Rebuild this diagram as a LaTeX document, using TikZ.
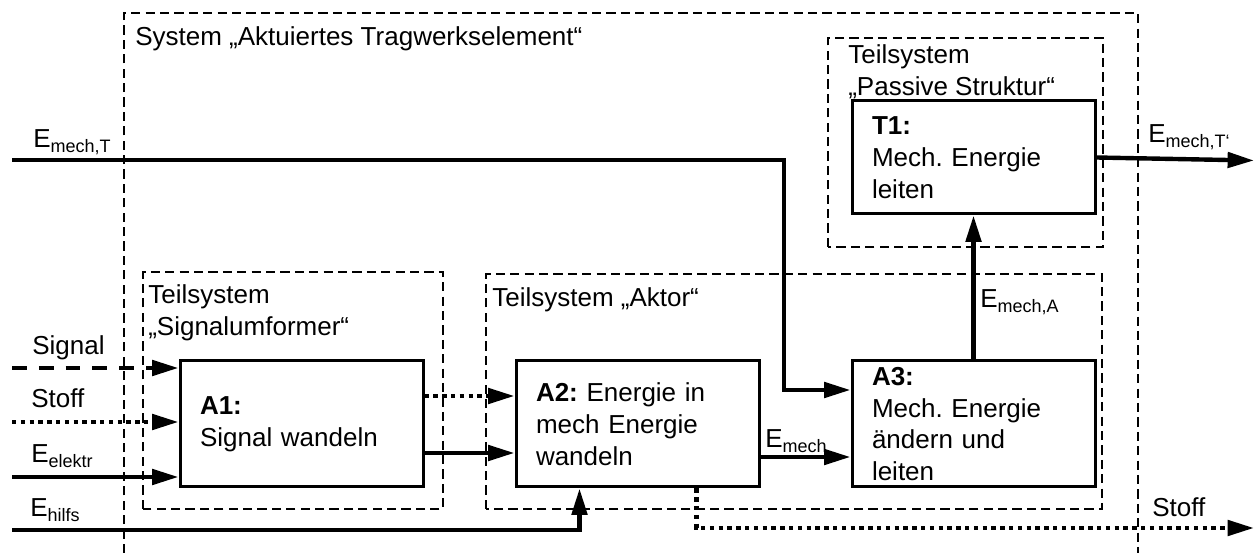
\documentclass[tikz,border=0pt]{standalone}
\usepackage{fontspec}
\setmainfont{Liberation Sans}
\usepackage{tikz}
\usetikzlibrary{positioning,arrows.meta,calc}
\frenchspacing
\newcommand{\esub}[1]{\raisebox{-0.125cm}{\fontsize{12.8}{12.8}\selectfont #1}}
\tikzset{
  fbox/.style={draw,line width=0.075cm,minimum width=6.075cm,minimum height=3.15cm,
    text width=5.075cm,inner xsep=0.5cm,inner ysep=0.05cm,align=left},  % function box
  sysbox/.style={line width=0.065cm,dash pattern=on 0.23cm off 0.13cm}, % system border
  eflow/.style={-{Triangle[length=0.66cm,width=0.38cm]},line width=0.11cm}, % energy
  sflow/.style={eflow,dash pattern=on 0.37cm off 0.3cm},  % signal
  mflow/.style={eflow,dash pattern=on 0.11cm off 0.11cm},  % material
  lbl/.style={anchor=base west,inner sep=0pt},
  mlbl/.style={anchor=north west,inner sep=0pt,align=left},
}

\begin{document}
\begin{tikzpicture}[font=\fontsize{18.5}{22.6}\selectfont]
  \useasboundingbox (0,0) rectangle (31.4,13.825);
  % system border, open at the bottom
  \draw[sysbox] (3.1,0) -- (3.1,13.5) -- (28.45,13.5) -- (28.45,0);
  \node[lbl] (sys) at (3.375,12.675) {System „Aktuiertes Tragwerkselement“};
  % subsystems
  \draw[sysbox] (3.575,1.1) rectangle (11.075,7.025);
  \node[mlbl] (sul) at (3.7,6.715) {Teilsystem\\„Signalumformer“};
  \draw[sysbox] (12.15,1.1) rectangle (27.55,6.975);
  \node[lbl] (akl) at (12.3,6.15) {Teilsystem „Aktor“};
  \draw[sysbox] (20.7,7.65) rectangle (27.575,12.875);
  \node[mlbl] (psl) at (21.2,12.715) {Teilsystem\\„Passive Struktur“};
  % functions
  \node[fbox] (A1) at (7.5375,3.225) {\textbf{A1:}\\Signal wandeln};
  \node[fbox,right=2.25cm of A1] (A2) {\textbf{A2:} Energie in\\mech Energie\\wandeln};
  \node[fbox,right=2.25cm of A2] (A3) {\textbf{A3:}\\Mech. Energie\\ändern und\\leiten};
  \node[fbox,minimum height=2.825cm,above=3.6cm of A3] (T1) {\textbf{T1:}\\Mech. Energie\\leiten};
  % inputs
  \coordinate (sigin) at (0.3,4.625);
  \coordinate (stin) at (0.3,3.275);
  \coordinate (elin) at (0.3,1.9);
  \coordinate (hin) at (0.3,0.575);
  \coordinate (mtin) at (0.3,9.825);
  \coordinate (mtk) at (19.6,4.075);
  \node[lbl] (sigl) at (0.8,4.95) {Signal};
  \node[lbl] (stl) at (0.775,3.625) {Stoff};
  \node[lbl] (ell) at (0.775,2.25) {E\esub{elektr}};
  \node[lbl] (hl) at (0.75,0.9) {E\esub{hilfs}};
  \node[lbl] (mtl) at (0.825,10.125) {E\esub{mech,T}};
  \draw[sflow] (sigin) -- (sigin -| A1.west);
  \draw[mflow] (stin) -- (stin -| A1.west);
  \draw[eflow] (elin) -- (elin -| A1.west);
  \draw[eflow] (hin) -| ([xshift=1.625cm]A2.south west);
  \draw[eflow] (mtin) -| (mtk) -- (mtk -| A3.west);
  % inner flows
  \draw[mflow] ([yshift=0.7cm]A1.east) -- ([yshift=0.7cm]A2.west);
  \draw[eflow] ([yshift=-0.725cm]A1.east) -- ([yshift=-0.725cm]A2.west);
  \draw[eflow] ([yshift=-0.825cm]A2.east) -- ([yshift=-0.825cm]A2.east -| A3.west);
  \node[lbl] (eml) at (19.125,2.625) {E\esub{mech}};
  \draw[eflow] (A3.north) -- (A3.north |- T1.south);
  \node[lbl] (mal) at (24.5,6.125) {E\esub{mech,A}};
  % outputs
  \coordinate (mtout) at (31.35,9.8125);
  \coordinate (stout) at (31.35,0.625);
  \draw[eflow] (T1.east) -- (mtout);
  \node[lbl] (mtol) at (28.7,10.25) {E\esub{mech,T‘}};
  \draw[mflow] ([xshift=4.55cm]A2.south west) |- (stout);
  \node[lbl] (stol) at (28.8,0.9) {Stoff};
\end{tikzpicture}
\end{document}
